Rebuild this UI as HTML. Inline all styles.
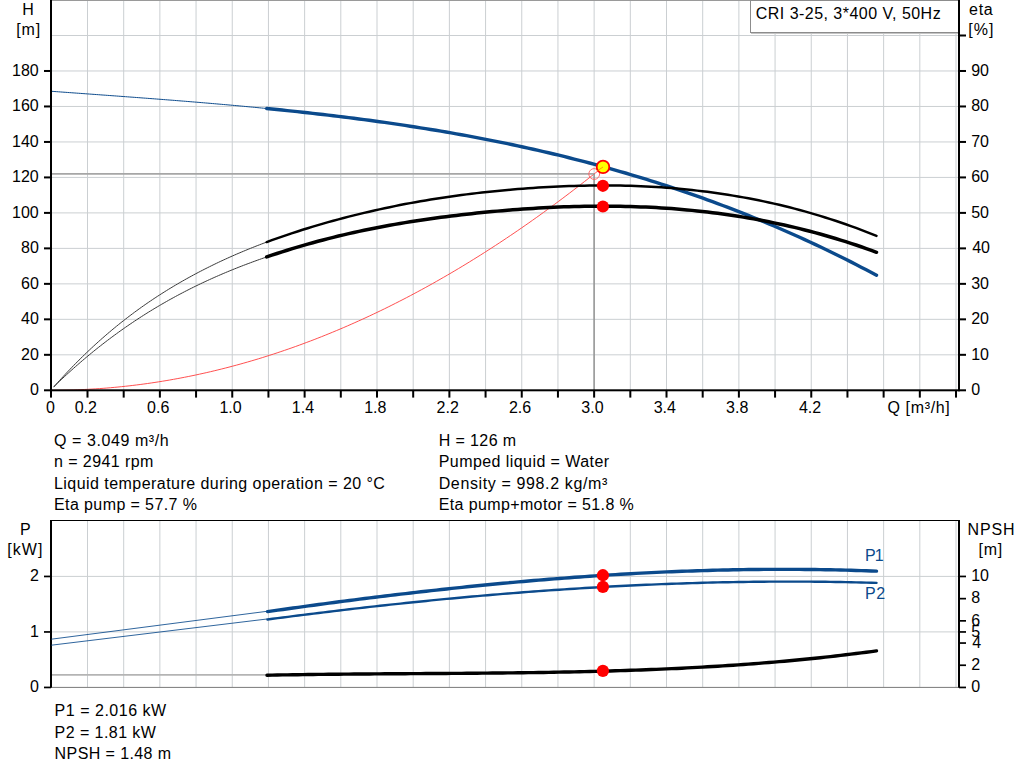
<!DOCTYPE html>
<html><head><meta charset="utf-8"><style>
html,body{margin:0;padding:0;background:#fff;width:1024px;height:781px;overflow:hidden}
svg{display:block}
text{font-family:"Liberation Sans",sans-serif;font-size:16px}
</style></head><body>
<svg width="1024" height="781" viewBox="0 0 1024 781">
<line x1="87.50" y1="0.00" x2="87.50" y2="390.30" stroke="#cbcfd2" stroke-width="1"/>
<line x1="123.69" y1="0.00" x2="123.69" y2="390.30" stroke="#cbcfd2" stroke-width="1"/>
<line x1="159.87" y1="0.00" x2="159.87" y2="390.30" stroke="#cbcfd2" stroke-width="1"/>
<line x1="196.06" y1="0.00" x2="196.06" y2="390.30" stroke="#cbcfd2" stroke-width="1"/>
<line x1="232.25" y1="0.00" x2="232.25" y2="390.30" stroke="#cbcfd2" stroke-width="1"/>
<line x1="268.44" y1="0.00" x2="268.44" y2="390.30" stroke="#cbcfd2" stroke-width="1"/>
<line x1="304.63" y1="0.00" x2="304.63" y2="390.30" stroke="#cbcfd2" stroke-width="1"/>
<line x1="340.81" y1="0.00" x2="340.81" y2="390.30" stroke="#cbcfd2" stroke-width="1"/>
<line x1="377.00" y1="0.00" x2="377.00" y2="390.30" stroke="#cbcfd2" stroke-width="1"/>
<line x1="413.19" y1="0.00" x2="413.19" y2="390.30" stroke="#cbcfd2" stroke-width="1"/>
<line x1="449.38" y1="0.00" x2="449.38" y2="390.30" stroke="#cbcfd2" stroke-width="1"/>
<line x1="485.57" y1="0.00" x2="485.57" y2="390.30" stroke="#cbcfd2" stroke-width="1"/>
<line x1="521.75" y1="0.00" x2="521.75" y2="390.30" stroke="#cbcfd2" stroke-width="1"/>
<line x1="557.94" y1="0.00" x2="557.94" y2="390.30" stroke="#cbcfd2" stroke-width="1"/>
<line x1="594.13" y1="0.00" x2="594.13" y2="390.30" stroke="#cbcfd2" stroke-width="1"/>
<line x1="630.32" y1="0.00" x2="630.32" y2="390.30" stroke="#cbcfd2" stroke-width="1"/>
<line x1="666.51" y1="0.00" x2="666.51" y2="390.30" stroke="#cbcfd2" stroke-width="1"/>
<line x1="702.69" y1="0.00" x2="702.69" y2="390.30" stroke="#cbcfd2" stroke-width="1"/>
<line x1="738.88" y1="0.00" x2="738.88" y2="390.30" stroke="#cbcfd2" stroke-width="1"/>
<line x1="775.07" y1="0.00" x2="775.07" y2="390.30" stroke="#cbcfd2" stroke-width="1"/>
<line x1="811.26" y1="0.00" x2="811.26" y2="390.30" stroke="#cbcfd2" stroke-width="1"/>
<line x1="847.45" y1="0.00" x2="847.45" y2="390.30" stroke="#cbcfd2" stroke-width="1"/>
<line x1="883.63" y1="0.00" x2="883.63" y2="390.30" stroke="#cbcfd2" stroke-width="1"/>
<line x1="919.82" y1="0.00" x2="919.82" y2="390.30" stroke="#cbcfd2" stroke-width="1"/>
<line x1="956.01" y1="0.00" x2="956.01" y2="390.30" stroke="#cbcfd2" stroke-width="1"/>
<line x1="51.30" y1="354.82" x2="959.00" y2="354.82" stroke="#cbcfd2" stroke-width="1"/>
<line x1="51.30" y1="319.34" x2="959.00" y2="319.34" stroke="#cbcfd2" stroke-width="1"/>
<line x1="51.30" y1="283.86" x2="959.00" y2="283.86" stroke="#cbcfd2" stroke-width="1"/>
<line x1="51.30" y1="248.38" x2="959.00" y2="248.38" stroke="#cbcfd2" stroke-width="1"/>
<line x1="51.30" y1="212.90" x2="959.00" y2="212.90" stroke="#cbcfd2" stroke-width="1"/>
<line x1="51.30" y1="177.42" x2="959.00" y2="177.42" stroke="#cbcfd2" stroke-width="1"/>
<line x1="51.30" y1="141.94" x2="959.00" y2="141.94" stroke="#cbcfd2" stroke-width="1"/>
<line x1="51.30" y1="106.46" x2="959.00" y2="106.46" stroke="#cbcfd2" stroke-width="1"/>
<line x1="51.30" y1="70.98" x2="959.00" y2="70.98" stroke="#cbcfd2" stroke-width="1"/>
<line x1="51.30" y1="35.50" x2="959.00" y2="35.50" stroke="#cbcfd2" stroke-width="1"/>
<rect x="50.00" y="0.00" width="910.00" height="1.00" fill="#9a9a9a"/>
<rect x="750.5" y="0.5" width="208" height="32" fill="#fff" stroke="#8c8c8c" stroke-width="1"/>
<rect x="751.00" y="32.00" width="208.00" height="1.00" fill="#8c8c8c"/>
<rect x="751.00" y="33.00" width="208.00" height="1.00" fill="#c4c4c4"/>
<path d="M51.31,390.30 L55.01,390.29 L58.71,390.26 L62.42,390.21 L66.12,390.14 L69.82,390.05 L73.52,389.94 L77.22,389.81 L80.93,389.66 L84.63,389.48 L88.33,389.29 L92.03,389.08 L95.73,388.85 L99.44,388.60 L103.14,388.33 L106.84,388.04 L110.54,387.72 L114.24,387.39 L117.95,387.04 L121.65,386.67 L125.35,386.28 L129.05,385.86 L132.75,385.43 L136.45,384.98 L140.16,384.50 L143.86,384.01 L147.56,383.50 L151.26,382.96 L154.96,382.41 L158.67,381.84 L162.37,381.24 L166.07,380.63 L169.77,380.00 L173.47,379.34 L177.18,378.67 L180.88,377.97 L184.58,377.26 L188.28,376.53 L191.98,375.77 L195.69,375.00 L199.39,374.20 L203.09,373.39 L206.79,372.55 L210.49,371.70 L214.20,370.82 L217.90,369.92 L221.60,369.01 L225.30,368.07 L229.00,367.12 L232.71,366.14 L236.41,365.15 L240.11,364.13 L243.81,363.09 L247.51,362.04 L251.22,360.96 L254.92,359.86 L258.62,358.75 L262.32,357.61 L266.02,356.45 L269.72,355.27 L273.43,354.08 L277.13,352.86 L280.83,351.62 L284.53,350.36 L288.23,349.09 L291.94,347.79 L295.64,346.47 L299.34,345.13 L303.04,343.77 L306.74,342.39 L310.45,341.00 L314.15,339.58 L317.85,338.14 L321.55,336.68 L325.25,335.20 L328.96,333.70 L332.66,332.18 L336.36,330.64 L340.06,329.08 L343.76,327.50 L347.47,325.90 L351.17,324.28 L354.87,322.64 L358.57,320.98 L362.27,319.30 L365.98,317.60 L369.68,315.88 L373.38,314.14 L377.08,312.38 L380.78,310.60 L384.49,308.80 L388.19,306.98 L391.89,305.14 L395.59,303.27 L399.29,301.39 L402.99,299.49 L406.70,297.57 L410.40,295.63 L414.10,293.66 L417.80,291.68 L421.50,289.68 L425.21,287.66 L428.91,285.62 L432.61,283.55 L436.31,281.47 L440.01,279.37 L443.72,277.24 L447.42,275.10 L451.12,272.94 L454.82,270.75 L458.52,268.55 L462.23,266.33 L465.93,264.08 L469.63,261.82 L473.33,259.53 L477.03,257.23 L480.74,254.91 L484.44,252.56 L488.14,250.20 L491.84,247.81 L495.54,245.41 L499.25,242.98 L502.95,240.54 L506.65,238.07 L510.35,235.59 L514.05,233.08 L517.76,230.56 L521.46,228.01 L525.16,225.44 L528.86,222.86 L532.56,220.25 L536.26,217.63 L539.97,214.98 L543.67,212.31 L547.37,209.63 L551.07,206.92 L554.77,204.19 L558.48,201.45 L562.18,198.68 L565.88,195.89 L569.58,193.08 L573.28,190.26 L576.99,187.41 L580.69,184.54 L584.39,181.65 L588.09,178.75 L591.79,175.82 L595.50,172.87 L599.20,169.90 L602.90,166.91" fill="none" stroke="#ff3c3c" stroke-width="0.9" stroke-linecap="round" stroke-linejoin="round"/>
<line x1="51.30" y1="173.90" x2="594.10" y2="173.90" stroke="#a6a6a6" stroke-width="1.6"/>
<line x1="594.10" y1="173.90" x2="594.10" y2="390.30" stroke="#8f8f8f" stroke-width="1.4"/>
<circle cx="594.2" cy="174.0" r="5.4" fill="none" stroke="#ff6060" stroke-width="0.9"/>
<path d="M54.00,386.71 L55.79,384.70 L57.57,382.70 L59.36,380.71 L61.15,378.75 L62.94,376.81 L64.72,374.88 L66.51,372.97 L68.30,371.08 L70.09,369.21 L71.87,367.35 L73.66,365.51 L75.45,363.69 L77.24,361.88 L79.02,360.09 L80.81,358.32 L82.60,356.56 L84.39,354.83 L86.17,353.10 L87.96,351.40 L89.75,349.71 L91.54,348.03 L93.32,346.38 L95.11,344.73 L96.90,343.11 L98.68,341.49 L100.47,339.90 L102.26,338.32 L104.05,336.75 L105.83,335.20 L107.62,333.67 L109.41,332.15 L111.20,330.64 L112.98,329.15 L114.77,327.67 L116.56,326.21 L118.35,324.76 L120.13,323.32 L121.92,321.90 L123.71,320.50 L125.50,319.10 L127.28,317.72 L129.07,316.36 L130.86,315.00 L132.65,313.66 L134.43,312.33 L136.22,311.02 L138.01,309.72 L139.79,308.43 L141.58,307.15 L143.37,305.89 L145.16,304.64 L146.94,303.40 L148.73,302.17 L150.52,300.96 L152.31,299.75 L154.09,298.56 L155.88,297.38 L157.67,296.21 L159.46,295.05 L161.24,293.90 L163.03,292.77 L164.82,291.64 L166.61,290.53 L168.39,289.43 L170.18,288.33 L171.97,287.25 L173.76,286.18 L175.54,285.12 L177.33,284.07 L179.12,283.02 L180.91,281.99 L182.69,280.97 L184.48,279.96 L186.27,278.95 L188.05,277.96 L189.84,276.97 L191.63,276.00 L193.42,275.03 L195.20,274.07 L196.99,273.12 L198.78,272.18 L200.57,271.25 L202.35,270.33 L204.14,269.41 L205.93,268.50 L207.72,267.60 L209.50,266.71 L211.29,265.83 L213.08,264.95 L214.87,264.09 L216.65,263.23 L218.44,262.38 L220.23,261.53 L222.02,260.70 L223.80,259.87 L225.59,259.05 L227.38,258.24 L229.16,257.43 L230.95,256.63 L232.74,255.84 L234.53,255.06 L236.31,254.28 L238.10,253.51 L239.89,252.75 L241.68,251.99 L243.46,251.24 L245.25,250.50 L247.04,249.76 L248.83,249.03 L250.61,248.31 L252.40,247.59 L254.19,246.88 L255.98,246.18 L257.76,245.48 L259.55,244.79 L261.34,244.10 L263.13,243.42 L264.91,242.75 L266.70,242.08" fill="none" stroke="#3a3a3a" stroke-width="1.0" stroke-linecap="round" stroke-linejoin="round"/>
<path d="M54.00,386.54 L55.79,384.81 L57.57,383.09 L59.36,381.39 L61.15,379.70 L62.94,378.03 L64.72,376.36 L66.51,374.71 L68.30,373.08 L70.09,371.46 L71.87,369.85 L73.66,368.25 L75.45,366.67 L77.24,365.10 L79.02,363.54 L80.81,361.99 L82.60,360.46 L84.39,358.94 L86.17,357.43 L87.96,355.94 L89.75,354.46 L91.54,352.99 L93.32,351.53 L95.11,350.09 L96.90,348.65 L98.68,347.23 L100.47,345.82 L102.26,344.43 L104.05,343.04 L105.83,341.67 L107.62,340.31 L109.41,338.96 L111.20,337.62 L112.98,336.29 L114.77,334.97 L116.56,333.67 L118.35,332.38 L120.13,331.09 L121.92,329.82 L123.71,328.56 L125.50,327.31 L127.28,326.08 L129.07,324.85 L130.86,323.63 L132.65,322.43 L134.43,321.23 L136.22,320.05 L138.01,318.87 L139.79,317.71 L141.58,316.56 L143.37,315.41 L145.16,314.28 L146.94,313.15 L148.73,312.04 L150.52,310.94 L152.31,309.84 L154.09,308.76 L155.88,307.69 L157.67,306.62 L159.46,305.57 L161.24,304.52 L163.03,303.49 L164.82,302.46 L166.61,301.44 L168.39,300.43 L170.18,299.43 L171.97,298.44 L173.76,297.46 L175.54,296.49 L177.33,295.53 L179.12,294.57 L180.91,293.63 L182.69,292.69 L184.48,291.76 L186.27,290.84 L188.05,289.93 L189.84,289.02 L191.63,288.13 L193.42,287.24 L195.20,286.36 L196.99,285.49 L198.78,284.62 L200.57,283.77 L202.35,282.92 L204.14,282.08 L205.93,281.25 L207.72,280.42 L209.50,279.60 L211.29,278.79 L213.08,277.99 L214.87,277.19 L216.65,276.41 L218.44,275.63 L220.23,274.85 L222.02,274.08 L223.80,273.32 L225.59,272.57 L227.38,271.82 L229.16,271.08 L230.95,270.35 L232.74,269.62 L234.53,268.90 L236.31,268.19 L238.10,267.48 L239.89,266.78 L241.68,266.08 L243.46,265.39 L245.25,264.71 L247.04,264.03 L248.83,263.36 L250.61,262.69 L252.40,262.03 L254.19,261.38 L255.98,260.73 L257.76,260.08 L259.55,259.44 L261.34,258.81 L263.13,258.18 L264.91,257.56 L266.70,256.94" fill="none" stroke="#3a3a3a" stroke-width="1.0" stroke-linecap="round" stroke-linejoin="round"/>
<path d="M51.30,91.28 L53.11,91.42 L54.93,91.55 L56.74,91.68 L58.55,91.81 L60.36,91.94 L62.18,92.08 L63.99,92.21 L65.80,92.34 L67.61,92.47 L69.43,92.60 L71.24,92.73 L73.05,92.86 L74.86,92.99 L76.68,93.13 L78.49,93.26 L80.30,93.39 L82.11,93.52 L83.93,93.65 L85.74,93.78 L87.55,93.91 L89.36,94.04 L91.18,94.18 L92.99,94.31 L94.80,94.44 L96.62,94.57 L98.43,94.70 L100.24,94.83 L102.05,94.97 L103.87,95.10 L105.68,95.23 L107.49,95.36 L109.30,95.49 L111.12,95.63 L112.93,95.76 L114.74,95.89 L116.55,96.03 L118.37,96.16 L120.18,96.29 L121.99,96.43 L123.80,96.56 L125.62,96.69 L127.43,96.83 L129.24,96.96 L131.05,97.10 L132.87,97.23 L134.68,97.37 L136.49,97.50 L138.31,97.64 L140.12,97.77 L141.93,97.91 L143.74,98.05 L145.56,98.18 L147.37,98.32 L149.18,98.46 L150.99,98.60 L152.81,98.73 L154.62,98.87 L156.43,99.01 L158.24,99.15 L160.06,99.29 L161.87,99.43 L163.68,99.57 L165.49,99.71 L167.31,99.85 L169.12,100.00 L170.93,100.14 L172.74,100.28 L174.56,100.42 L176.37,100.57 L178.18,100.71 L179.99,100.86 L181.81,101.00 L183.62,101.15 L185.43,101.29 L187.25,101.44 L189.06,101.59 L190.87,101.74 L192.68,101.88 L194.50,102.03 L196.31,102.18 L198.12,102.33 L199.93,102.48 L201.75,102.63 L203.56,102.78 L205.37,102.94 L207.18,103.09 L209.00,103.24 L210.81,103.40 L212.62,103.55 L214.43,103.71 L216.25,103.86 L218.06,104.02 L219.87,104.18 L221.68,104.34 L223.50,104.50 L225.31,104.65 L227.12,104.81 L228.94,104.98 L230.75,105.14 L232.56,105.30 L234.37,105.46 L236.19,105.63 L238.00,105.79 L239.81,105.96 L241.62,106.12 L243.44,106.29 L245.25,106.46 L247.06,106.63 L248.87,106.80 L250.69,106.97 L252.50,107.14 L254.31,107.31 L256.12,107.48 L257.94,107.66 L259.75,107.83 L261.56,108.01 L263.37,108.18 L265.19,108.36 L267.00,108.54" fill="none" stroke="#0b4a8c" stroke-width="1.0" stroke-linecap="butt" stroke-linejoin="round"/>
<path d="M266.70,108.51 L271.82,109.02 L276.95,109.53 L282.07,110.05 L287.20,110.58 L292.32,111.12 L297.45,111.67 L302.57,112.23 L307.69,112.79 L312.82,113.36 L317.94,113.95 L323.07,114.54 L328.19,115.14 L333.32,115.75 L338.44,116.37 L343.57,117.00 L348.69,117.64 L353.81,118.30 L358.94,118.96 L364.06,119.63 L369.19,120.31 L374.31,121.01 L379.44,121.72 L384.56,122.44 L389.68,123.17 L394.81,123.91 L399.93,124.66 L405.06,125.43 L410.18,126.21 L415.31,127.00 L420.43,127.81 L425.56,128.63 L430.68,129.46 L435.80,130.30 L440.93,131.16 L446.05,132.04 L451.18,132.93 L456.30,133.83 L461.43,134.75 L466.55,135.68 L471.67,136.63 L476.80,137.59 L481.92,138.57 L487.05,139.56 L492.17,140.57 L497.30,141.59 L502.42,142.63 L507.55,143.69 L512.67,144.77 L517.79,145.86 L522.92,146.97 L528.04,148.09 L533.17,149.24 L538.29,150.40 L543.42,151.58 L548.54,152.77 L553.66,153.99 L558.79,155.22 L563.91,156.47 L569.04,157.74 L574.16,159.03 L579.29,160.34 L584.41,161.66 L589.54,163.01 L594.66,164.38 L599.78,165.76 L604.91,167.17 L610.03,168.60 L615.16,170.04 L620.28,171.51 L625.41,173.00 L630.53,174.51 L635.65,176.04 L640.78,177.59 L645.90,179.17 L651.03,180.76 L656.15,182.38 L661.28,184.02 L666.40,185.68 L671.53,187.36 L676.65,189.07 L681.77,190.80 L686.90,192.55 L692.02,194.32 L697.15,196.12 L702.27,197.94 L707.40,199.79 L712.52,201.66 L717.64,203.55 L722.77,205.47 L727.89,207.41 L733.02,209.38 L738.14,211.37 L743.27,213.39 L748.39,215.43 L753.52,217.50 L758.64,219.60 L763.76,221.72 L768.89,223.86 L774.01,226.03 L779.14,228.23 L784.26,230.46 L789.39,232.71 L794.51,234.99 L799.63,237.29 L804.76,239.62 L809.88,241.98 L815.01,244.37 L820.13,246.79 L825.26,249.23 L830.38,251.70 L835.51,254.20 L840.63,256.73 L845.75,259.29 L850.88,261.88 L856.00,264.49 L861.13,267.14 L866.25,269.81 L871.38,272.52 L876.50,275.25" fill="none" stroke="#0b4a8c" stroke-width="3.4" stroke-linecap="round" stroke-linejoin="round"/>
<path d="M266.70,242.08 L271.82,240.20 L276.95,238.36 L282.07,236.57 L287.20,234.82 L292.32,233.11 L297.45,231.44 L302.57,229.80 L307.69,228.21 L312.82,226.64 L317.94,225.11 L323.07,223.62 L328.19,222.16 L333.32,220.73 L338.44,219.34 L343.57,217.98 L348.69,216.65 L353.81,215.35 L358.94,214.09 L364.06,212.86 L369.19,211.66 L374.31,210.49 L379.44,209.35 L384.56,208.24 L389.68,207.16 L394.81,206.11 L399.93,205.09 L405.06,204.10 L410.18,203.14 L415.31,202.21 L420.43,201.30 L425.56,200.43 L430.68,199.58 L435.80,198.76 L440.93,197.96 L446.05,197.20 L451.18,196.45 L456.30,195.74 L461.43,195.05 L466.55,194.38 L471.67,193.75 L476.80,193.13 L481.92,192.54 L487.05,191.98 L492.17,191.44 L497.30,190.92 L502.42,190.42 L507.55,189.95 L512.67,189.50 L517.79,189.08 L522.92,188.67 L528.04,188.29 L533.17,187.93 L538.29,187.59 L543.42,187.28 L548.54,186.99 L553.66,186.72 L558.79,186.48 L563.91,186.26 L569.04,186.07 L574.16,185.90 L579.29,185.76 L584.41,185.65 L589.54,185.56 L594.66,185.50 L599.78,185.46 L604.91,185.46 L610.03,185.48 L615.16,185.53 L620.28,185.62 L625.41,185.73 L630.53,185.87 L635.65,186.04 L640.78,186.24 L645.90,186.47 L651.03,186.74 L656.15,187.04 L661.28,187.37 L666.40,187.73 L671.53,188.12 L676.65,188.55 L681.77,189.02 L686.90,189.51 L692.02,190.05 L697.15,190.62 L702.27,191.22 L707.40,191.86 L712.52,192.54 L717.64,193.25 L722.77,194.00 L727.89,194.79 L733.02,195.61 L738.14,196.48 L743.27,197.38 L748.39,198.32 L753.52,199.31 L758.64,200.33 L763.76,201.39 L768.89,202.50 L774.01,203.64 L779.14,204.83 L784.26,206.06 L789.39,207.33 L794.51,208.65 L799.63,210.01 L804.76,211.41 L809.88,212.86 L815.01,214.35 L820.13,215.88 L825.26,217.46 L830.38,219.09 L835.51,220.76 L840.63,222.48 L845.75,224.25 L850.88,226.07 L856.00,227.93 L861.13,229.84 L866.25,231.80 L871.38,233.81 L876.50,235.86" fill="none" stroke="#000" stroke-width="2.5" stroke-linecap="round" stroke-linejoin="round"/>
<path d="M266.70,256.94 L271.82,255.20 L276.95,253.50 L282.07,251.84 L287.20,250.22 L292.32,248.64 L297.45,247.09 L302.57,245.59 L307.69,244.12 L312.82,242.69 L317.94,241.30 L323.07,239.94 L328.19,238.61 L333.32,237.33 L338.44,236.07 L343.57,234.85 L348.69,233.66 L353.81,232.51 L358.94,231.39 L364.06,230.29 L369.19,229.23 L374.31,228.20 L379.44,227.20 L384.56,226.23 L389.68,225.29 L394.81,224.37 L399.93,223.49 L405.06,222.63 L410.18,221.79 L415.31,220.99 L420.43,220.20 L425.56,219.45 L430.68,218.71 L435.80,218.00 L440.93,217.32 L446.05,216.65 L451.18,216.01 L456.30,215.39 L461.43,214.79 L466.55,214.21 L471.67,213.65 L476.80,213.11 L481.92,212.59 L487.05,212.08 L492.17,211.60 L497.30,211.13 L502.42,210.68 L507.55,210.25 L512.67,209.84 L517.79,209.45 L522.92,209.08 L528.04,208.73 L533.17,208.40 L538.29,208.09 L543.42,207.80 L548.54,207.53 L553.66,207.29 L558.79,207.07 L563.91,206.87 L569.04,206.69 L574.16,206.54 L579.29,206.41 L584.41,206.31 L589.54,206.23 L594.66,206.18 L599.78,206.15 L604.91,206.14 L610.03,206.17 L615.16,206.22 L620.28,206.29 L625.41,206.40 L630.53,206.53 L635.65,206.69 L640.78,206.88 L645.90,207.09 L651.03,207.34 L656.15,207.61 L661.28,207.92 L666.40,208.25 L671.53,208.61 L676.65,209.01 L681.77,209.44 L686.90,209.89 L692.02,210.38 L697.15,210.91 L702.27,211.46 L707.40,212.05 L712.52,212.67 L717.64,213.32 L722.77,214.01 L727.89,214.73 L733.02,215.49 L738.14,216.29 L743.27,217.11 L748.39,217.98 L753.52,218.88 L758.64,219.81 L763.76,220.79 L768.89,221.80 L774.01,222.85 L779.14,223.93 L784.26,225.06 L789.39,226.22 L794.51,227.42 L799.63,228.67 L804.76,229.95 L809.88,231.27 L815.01,232.63 L820.13,234.04 L825.26,235.48 L830.38,236.97 L835.51,238.50 L840.63,240.07 L845.75,241.68 L850.88,243.33 L856.00,245.03 L861.13,246.78 L866.25,248.56 L871.38,250.40 L876.50,252.27" fill="none" stroke="#000" stroke-width="3.5" stroke-linecap="round" stroke-linejoin="round"/>
<rect x="50.00" y="0.00" width="2.00" height="397.60" fill="#000"/>
<rect x="958.00" y="0.00" width="2.00" height="391.30" fill="#000"/>
<rect x="44.00" y="389.30" width="922.00" height="2.00" fill="#000"/>
<rect x="44.00" y="353.82" width="7.00" height="2.00" fill="#000"/>
<rect x="959.00" y="353.82" width="7.00" height="2.00" fill="#000"/>
<rect x="44.00" y="318.34" width="7.00" height="2.00" fill="#000"/>
<rect x="959.00" y="318.34" width="7.00" height="2.00" fill="#000"/>
<rect x="44.00" y="282.86" width="7.00" height="2.00" fill="#000"/>
<rect x="959.00" y="282.86" width="7.00" height="2.00" fill="#000"/>
<rect x="44.00" y="247.38" width="7.00" height="2.00" fill="#000"/>
<rect x="959.00" y="247.38" width="7.00" height="2.00" fill="#000"/>
<rect x="44.00" y="211.90" width="7.00" height="2.00" fill="#000"/>
<rect x="959.00" y="211.90" width="7.00" height="2.00" fill="#000"/>
<rect x="44.00" y="176.42" width="7.00" height="2.00" fill="#000"/>
<rect x="959.00" y="176.42" width="7.00" height="2.00" fill="#000"/>
<rect x="44.00" y="140.94" width="7.00" height="2.00" fill="#000"/>
<rect x="959.00" y="140.94" width="7.00" height="2.00" fill="#000"/>
<rect x="44.00" y="105.46" width="7.00" height="2.00" fill="#000"/>
<rect x="959.00" y="105.46" width="7.00" height="2.00" fill="#000"/>
<rect x="44.00" y="69.98" width="7.00" height="2.00" fill="#000"/>
<rect x="959.00" y="69.98" width="7.00" height="2.00" fill="#000"/>
<rect x="959.00" y="34.50" width="7.00" height="2.00" fill="#000"/>
<rect x="86.50" y="390.00" width="2.00" height="7.60" fill="#000"/>
<rect x="122.69" y="390.00" width="2.00" height="7.60" fill="#000"/>
<rect x="158.87" y="390.00" width="2.00" height="7.60" fill="#000"/>
<rect x="195.06" y="390.00" width="2.00" height="7.60" fill="#000"/>
<rect x="231.25" y="390.00" width="2.00" height="7.60" fill="#000"/>
<rect x="267.44" y="390.00" width="2.00" height="7.60" fill="#000"/>
<rect x="303.63" y="390.00" width="2.00" height="7.60" fill="#000"/>
<rect x="339.81" y="390.00" width="2.00" height="7.60" fill="#000"/>
<rect x="376.00" y="390.00" width="2.00" height="7.60" fill="#000"/>
<rect x="412.19" y="390.00" width="2.00" height="7.60" fill="#000"/>
<rect x="448.38" y="390.00" width="2.00" height="7.60" fill="#000"/>
<rect x="484.57" y="390.00" width="2.00" height="7.60" fill="#000"/>
<rect x="520.75" y="390.00" width="2.00" height="7.60" fill="#000"/>
<rect x="556.94" y="390.00" width="2.00" height="7.60" fill="#000"/>
<rect x="593.13" y="390.00" width="2.00" height="7.60" fill="#000"/>
<rect x="629.32" y="390.00" width="2.00" height="7.60" fill="#000"/>
<rect x="665.51" y="390.00" width="2.00" height="7.60" fill="#000"/>
<rect x="701.69" y="390.00" width="2.00" height="7.60" fill="#000"/>
<rect x="737.88" y="390.00" width="2.00" height="7.60" fill="#000"/>
<rect x="774.07" y="390.00" width="2.00" height="7.60" fill="#000"/>
<rect x="810.26" y="390.00" width="2.00" height="7.60" fill="#000"/>
<rect x="846.45" y="390.00" width="2.00" height="7.60" fill="#000"/>
<rect x="882.63" y="390.00" width="2.00" height="7.60" fill="#000"/>
<rect x="918.82" y="390.00" width="2.00" height="7.60" fill="#000"/>
<rect x="955.01" y="390.00" width="2.00" height="7.60" fill="#000"/>
<circle cx="602.9" cy="185.8" r="6.1" fill="#ff0000"/>
<circle cx="602.9" cy="206.5" r="6.1" fill="#ff0000"/>
<circle cx="603.0" cy="166.9" r="6.3" fill="#ffff00" stroke="#ff0000" stroke-width="1.8"/>
<line x1="597" y1="171" x2="603" y2="167" stroke="#ff8000" stroke-width="0.8"/>
<line x1="87.50" y1="520.50" x2="87.50" y2="687.00" stroke="#cbcfd2" stroke-width="1"/>
<line x1="123.69" y1="520.50" x2="123.69" y2="687.00" stroke="#cbcfd2" stroke-width="1"/>
<line x1="159.87" y1="520.50" x2="159.87" y2="687.00" stroke="#cbcfd2" stroke-width="1"/>
<line x1="196.06" y1="520.50" x2="196.06" y2="687.00" stroke="#cbcfd2" stroke-width="1"/>
<line x1="232.25" y1="520.50" x2="232.25" y2="687.00" stroke="#cbcfd2" stroke-width="1"/>
<line x1="268.44" y1="520.50" x2="268.44" y2="687.00" stroke="#cbcfd2" stroke-width="1"/>
<line x1="304.63" y1="520.50" x2="304.63" y2="687.00" stroke="#cbcfd2" stroke-width="1"/>
<line x1="340.81" y1="520.50" x2="340.81" y2="687.00" stroke="#cbcfd2" stroke-width="1"/>
<line x1="377.00" y1="520.50" x2="377.00" y2="687.00" stroke="#cbcfd2" stroke-width="1"/>
<line x1="413.19" y1="520.50" x2="413.19" y2="687.00" stroke="#cbcfd2" stroke-width="1"/>
<line x1="449.38" y1="520.50" x2="449.38" y2="687.00" stroke="#cbcfd2" stroke-width="1"/>
<line x1="485.57" y1="520.50" x2="485.57" y2="687.00" stroke="#cbcfd2" stroke-width="1"/>
<line x1="521.75" y1="520.50" x2="521.75" y2="687.00" stroke="#cbcfd2" stroke-width="1"/>
<line x1="557.94" y1="520.50" x2="557.94" y2="687.00" stroke="#cbcfd2" stroke-width="1"/>
<line x1="594.13" y1="520.50" x2="594.13" y2="687.00" stroke="#cbcfd2" stroke-width="1"/>
<line x1="630.32" y1="520.50" x2="630.32" y2="687.00" stroke="#cbcfd2" stroke-width="1"/>
<line x1="666.51" y1="520.50" x2="666.51" y2="687.00" stroke="#cbcfd2" stroke-width="1"/>
<line x1="702.69" y1="520.50" x2="702.69" y2="687.00" stroke="#cbcfd2" stroke-width="1"/>
<line x1="738.88" y1="520.50" x2="738.88" y2="687.00" stroke="#cbcfd2" stroke-width="1"/>
<line x1="775.07" y1="520.50" x2="775.07" y2="687.00" stroke="#cbcfd2" stroke-width="1"/>
<line x1="811.26" y1="520.50" x2="811.26" y2="687.00" stroke="#cbcfd2" stroke-width="1"/>
<line x1="847.45" y1="520.50" x2="847.45" y2="687.00" stroke="#cbcfd2" stroke-width="1"/>
<line x1="883.63" y1="520.50" x2="883.63" y2="687.00" stroke="#cbcfd2" stroke-width="1"/>
<line x1="919.82" y1="520.50" x2="919.82" y2="687.00" stroke="#cbcfd2" stroke-width="1"/>
<line x1="956.01" y1="520.50" x2="956.01" y2="687.00" stroke="#cbcfd2" stroke-width="1"/>
<line x1="51.30" y1="631.90" x2="959.00" y2="631.90" stroke="#cbcfd2" stroke-width="1"/>
<line x1="51.30" y1="576.40" x2="959.00" y2="576.40" stroke="#cbcfd2" stroke-width="1"/>
<rect x="50.00" y="520.00" width="910.00" height="1.00" fill="#000"/>
<rect x="51.00" y="686.90" width="908.00" height="1.00" fill="#7a7a7a"/>
<rect x="50.00" y="520.00" width="2.00" height="167.60" fill="#000"/>
<rect x="958.00" y="520.00" width="2.00" height="167.60" fill="#000"/>
<rect x="44.00" y="686.60" width="7.00" height="1.70" fill="#000"/>
<rect x="44.00" y="631.10" width="7.00" height="1.70" fill="#000"/>
<rect x="44.00" y="575.60" width="7.00" height="1.70" fill="#000"/>
<rect x="959.00" y="686.60" width="7.00" height="1.70" fill="#000"/>
<rect x="959.00" y="664.40" width="7.00" height="1.70" fill="#000"/>
<rect x="959.00" y="642.20" width="7.00" height="1.70" fill="#000"/>
<rect x="959.00" y="631.10" width="7.00" height="1.70" fill="#000"/>
<rect x="959.00" y="620.00" width="7.00" height="1.70" fill="#000"/>
<rect x="959.00" y="597.80" width="7.00" height="1.70" fill="#000"/>
<rect x="959.00" y="575.60" width="7.00" height="1.70" fill="#000"/>
<line x1="52.00" y1="674.90" x2="267.00" y2="674.90" stroke="#b4b4b4" stroke-width="1.6"/>
<line x1="51.30" y1="639.20" x2="267.00" y2="611.30" stroke="#0b4a8c" stroke-width="1.0" stroke-opacity="0.85"/>
<line x1="51.30" y1="645.20" x2="267.00" y2="619.00" stroke="#0b4a8c" stroke-width="1.0" stroke-opacity="0.85"/>
<path d="M267.50,611.62 L272.62,610.89 L277.74,610.17 L282.85,609.45 L287.97,608.73 L293.09,608.02 L298.21,607.31 L303.32,606.61 L308.44,605.91 L313.56,605.21 L318.68,604.52 L323.79,603.84 L328.91,603.16 L334.03,602.48 L339.15,601.81 L344.26,601.15 L349.38,600.49 L354.50,599.83 L359.62,599.18 L364.74,598.54 L369.85,597.90 L374.97,597.26 L380.09,596.63 L385.21,596.01 L390.32,595.39 L395.44,594.77 L400.56,594.17 L405.68,593.57 L410.79,592.97 L415.91,592.38 L421.03,591.80 L426.15,591.22 L431.26,590.64 L436.38,590.08 L441.50,589.52 L446.62,588.96 L451.74,588.42 L456.85,587.88 L461.97,587.34 L467.09,586.81 L472.21,586.29 L477.32,585.77 L482.44,585.27 L487.56,584.76 L492.68,584.27 L497.79,583.78 L502.91,583.30 L508.03,582.82 L513.15,582.36 L518.26,581.90 L523.38,581.44 L528.50,581.00 L533.62,580.56 L538.74,580.13 L543.85,579.70 L548.97,579.29 L554.09,578.88 L559.21,578.48 L564.32,578.08 L569.44,577.70 L574.56,577.32 L579.68,576.95 L584.79,576.59 L589.91,576.23 L595.03,575.89 L600.15,575.55 L605.26,575.22 L610.38,574.90 L615.50,574.58 L620.62,574.28 L625.74,573.98 L630.85,573.70 L635.97,573.42 L641.09,573.15 L646.21,572.88 L651.32,572.63 L656.44,572.39 L661.56,572.15 L666.68,571.92 L671.79,571.71 L676.91,571.50 L682.03,571.30 L687.15,571.11 L692.26,570.93 L697.38,570.76 L702.50,570.59 L707.62,570.44 L712.74,570.30 L717.85,570.17 L722.97,570.04 L728.09,569.93 L733.21,569.82 L738.32,569.73 L743.44,569.65 L748.56,569.57 L753.68,569.51 L758.79,569.45 L763.91,569.41 L769.03,569.38 L774.15,569.35 L779.26,569.34 L784.38,569.34 L789.50,569.34 L794.62,569.36 L799.74,569.39 L804.85,569.43 L809.97,569.48 L815.09,569.54 L820.21,569.62 L825.32,569.70 L830.44,569.79 L835.56,569.90 L840.68,570.02 L845.79,570.14 L850.91,570.28 L856.03,570.43 L861.15,570.60 L866.26,570.77 L871.38,570.95 L876.50,571.15" fill="none" stroke="#0b4a8c" stroke-width="3.4" stroke-linecap="round" stroke-linejoin="round"/>
<path d="M267.50,619.49 L272.62,618.81 L277.74,618.14 L282.85,617.48 L287.97,616.82 L293.09,616.16 L298.21,615.51 L303.32,614.87 L308.44,614.22 L313.56,613.59 L318.68,612.96 L323.79,612.33 L328.91,611.71 L334.03,611.09 L339.15,610.48 L344.26,609.88 L349.38,609.28 L354.50,608.68 L359.62,608.10 L364.74,607.51 L369.85,606.93 L374.97,606.36 L380.09,605.79 L385.21,605.23 L390.32,604.67 L395.44,604.12 L400.56,603.58 L405.68,603.04 L410.79,602.51 L415.91,601.98 L421.03,601.46 L426.15,600.94 L431.26,600.43 L436.38,599.92 L441.50,599.43 L446.62,598.93 L451.74,598.45 L456.85,597.97 L461.97,597.49 L467.09,597.03 L472.21,596.56 L477.32,596.11 L482.44,595.66 L487.56,595.22 L492.68,594.78 L497.79,594.35 L502.91,593.92 L508.03,593.51 L513.15,593.10 L518.26,592.69 L523.38,592.29 L528.50,591.90 L533.62,591.52 L538.74,591.14 L543.85,590.77 L548.97,590.40 L554.09,590.05 L559.21,589.70 L564.32,589.35 L569.44,589.02 L574.56,588.69 L579.68,588.36 L584.79,588.05 L589.91,587.74 L595.03,587.44 L600.15,587.14 L605.26,586.85 L610.38,586.57 L615.50,586.30 L620.62,586.03 L625.74,585.78 L630.85,585.52 L635.97,585.28 L641.09,585.04 L646.21,584.82 L651.32,584.59 L656.44,584.38 L661.56,584.17 L666.68,583.98 L671.79,583.79 L676.91,583.60 L682.03,583.43 L687.15,583.26 L692.26,583.10 L697.38,582.95 L702.50,582.80 L707.62,582.67 L712.74,582.54 L717.85,582.42 L722.97,582.31 L728.09,582.20 L733.21,582.11 L738.32,582.02 L743.44,581.94 L748.56,581.87 L753.68,581.81 L758.79,581.75 L763.91,581.71 L769.03,581.67 L774.15,581.64 L779.26,581.62 L784.38,581.61 L789.50,581.60 L794.62,581.61 L799.74,581.62 L804.85,581.64 L809.97,581.67 L815.09,581.71 L820.21,581.76 L825.32,581.82 L830.44,581.88 L835.56,581.96 L840.68,582.04 L845.79,582.13 L850.91,582.23 L856.03,582.34 L861.15,582.46 L866.26,582.59 L871.38,582.73 L876.50,582.88" fill="none" stroke="#0b4a8c" stroke-width="2.4" stroke-linecap="round" stroke-linejoin="round"/>
<path d="M267.00,675.20 L272.12,675.11 L277.24,675.01 L282.37,674.92 L287.49,674.84 L292.61,674.76 L297.73,674.68 L302.85,674.61 L307.97,674.54 L313.10,674.47 L318.22,674.41 L323.34,674.35 L328.46,674.29 L333.58,674.24 L338.71,674.19 L343.83,674.14 L348.95,674.09 L354.07,674.05 L359.19,674.01 L364.32,673.97 L369.44,673.93 L374.56,673.89 L379.68,673.86 L384.80,673.82 L389.92,673.79 L395.05,673.76 L400.17,673.72 L405.29,673.69 L410.41,673.66 L415.53,673.63 L420.66,673.60 L425.78,673.57 L430.90,673.54 L436.02,673.50 L441.14,673.47 L446.26,673.44 L451.39,673.40 L456.51,673.37 L461.63,673.33 L466.75,673.29 L471.87,673.25 L477.00,673.21 L482.12,673.17 L487.24,673.12 L492.36,673.07 L497.48,673.02 L502.61,672.97 L507.73,672.91 L512.85,672.86 L517.97,672.79 L523.09,672.73 L528.21,672.66 L533.34,672.59 L538.46,672.51 L543.58,672.43 L548.70,672.35 L553.82,672.26 L558.95,672.16 L564.07,672.07 L569.19,671.97 L574.31,671.86 L579.43,671.75 L584.55,671.63 L589.68,671.51 L594.80,671.38 L599.92,671.24 L605.04,671.10 L610.16,670.96 L615.29,670.80 L620.41,670.64 L625.53,670.48 L630.65,670.31 L635.77,670.13 L640.89,669.94 L646.02,669.75 L651.14,669.55 L656.26,669.34 L661.38,669.12 L666.50,668.90 L671.63,668.67 L676.75,668.43 L681.87,668.18 L686.99,667.92 L692.11,667.65 L697.24,667.38 L702.36,667.09 L707.48,666.80 L712.60,666.50 L717.72,666.19 L722.84,665.87 L727.97,665.53 L733.09,665.19 L738.21,664.84 L743.33,664.48 L748.45,664.11 L753.58,663.72 L758.70,663.33 L763.82,662.92 L768.94,662.51 L774.06,662.08 L779.18,661.64 L784.31,661.19 L789.43,660.72 L794.55,660.25 L799.67,659.76 L804.79,659.26 L809.92,658.75 L815.04,658.23 L820.16,657.69 L825.28,657.14 L830.40,656.57 L835.53,656.00 L840.65,655.41 L845.77,654.80 L850.89,654.18 L856.01,653.55 L861.13,652.91 L866.26,652.25 L871.38,651.57 L876.50,650.88" fill="none" stroke="#000" stroke-width="3.4" stroke-linecap="round" stroke-linejoin="round"/>
<circle cx="602.9" cy="575.2" r="6.1" fill="#ff0000"/>
<circle cx="602.9" cy="586.9" r="6.1" fill="#ff0000"/>
<circle cx="602.9" cy="670.9" r="6.1" fill="#ff0000"/>
<text x="22.30" y="14.90" fill="#000">H</text>
<text x="16.30" y="34.90" fill="#000" letter-spacing="0.850">[m]</text>
<text x="30.00" y="395.20" fill="#000">0</text>
<text x="21.00" y="359.72" fill="#000">20</text>
<text x="21.00" y="324.24" fill="#000">40</text>
<text x="21.00" y="288.76" fill="#000">60</text>
<text x="21.00" y="253.28" fill="#000">80</text>
<text x="12.00" y="217.80" fill="#000">100</text>
<text x="12.00" y="182.32" fill="#000">120</text>
<text x="12.00" y="146.84" fill="#000">140</text>
<text x="12.00" y="111.36" fill="#000">160</text>
<text x="12.00" y="75.88" fill="#000">180</text>
<text x="969.10" y="14.80" fill="#000" letter-spacing="0.650">eta</text>
<text x="968.30" y="34.60" fill="#000" letter-spacing="1.050">[%]</text>
<text x="971.20" y="395.20" fill="#000">0</text>
<text x="971.20" y="359.72" fill="#000">10</text>
<text x="971.20" y="324.24" fill="#000">20</text>
<text x="971.20" y="288.76" fill="#000">30</text>
<text x="972.20" y="253.28" fill="#000">40</text>
<text x="971.20" y="217.80" fill="#000">50</text>
<text x="971.20" y="182.32" fill="#000">60</text>
<text x="971.20" y="146.84" fill="#000">70</text>
<text x="971.20" y="111.36" fill="#000">80</text>
<text x="971.20" y="75.88" fill="#000">90</text>
<text x="46.05" y="412.60" fill="#000">0</text>
<text x="74.70" y="412.60" fill="#000">0.2</text>
<text x="147.07" y="412.60" fill="#000">0.6</text>
<text x="219.45" y="412.60" fill="#000">1.0</text>
<text x="291.83" y="412.60" fill="#000">1.4</text>
<text x="364.20" y="412.60" fill="#000">1.8</text>
<text x="436.58" y="412.60" fill="#000">2.2</text>
<text x="508.95" y="412.60" fill="#000">2.6</text>
<text x="581.33" y="412.60" fill="#000">3.0</text>
<text x="653.71" y="412.60" fill="#000">3.4</text>
<text x="726.08" y="412.60" fill="#000">3.8</text>
<text x="798.96" y="412.60" fill="#000">4.2</text>
<text x="887.40" y="412.60" fill="#000" letter-spacing="0.657">Q [m³/h]</text>
<text x="755.80" y="18.90" fill="#000" letter-spacing="0.464">CRI 3-25, 3*400 V, 50Hz</text>
<text x="54.00" y="445.50" fill="#000" letter-spacing="0.577">Q = 3.049 m³/h</text>
<text x="54.00" y="466.60" fill="#000" letter-spacing="0.427">n = 2941 rpm</text>
<text x="54.00" y="489.00" fill="#000" letter-spacing="0.452">Liquid temperature during operation = 20 °C</text>
<text x="54.00" y="510.00" fill="#000" letter-spacing="0.400">Eta pump = 57.7 %</text>
<text x="438.70" y="445.60" fill="#000" letter-spacing="0.400">H = 126 m</text>
<text x="438.70" y="466.80" fill="#000" letter-spacing="0.435">Pumped liquid = Water</text>
<text x="438.70" y="489.00" fill="#000" letter-spacing="0.625">Density = 998.2 kg/m³</text>
<text x="438.70" y="510.00" fill="#000" letter-spacing="0.377">Eta pump+motor = 51.8 %</text>
<text x="20.10" y="534.60" fill="#000">P</text>
<text x="7.20" y="554.80" fill="#000" letter-spacing="1.067">[kW]</text>
<text x="30.00" y="692.10" fill="#000">0</text>
<text x="30.00" y="636.60" fill="#000">1</text>
<text x="30.00" y="581.10" fill="#000">2</text>
<text x="967.50" y="535.10" fill="#000" letter-spacing="0.867">NPSH</text>
<text x="978.40" y="555.30" fill="#000" letter-spacing="0.850">[m]</text>
<text x="971.20" y="692.10" fill="#000">0</text>
<text x="971.20" y="669.90" fill="#000">2</text>
<text x="972.20" y="647.70" fill="#000">4</text>
<text x="971.20" y="636.60" fill="#000">5</text>
<text x="971.20" y="625.50" fill="#000">6</text>
<text x="971.20" y="603.30" fill="#000">8</text>
<text x="971.20" y="581.10" fill="#000">10</text>
<text x="865.10" y="560.80" fill="#0b4a8c" letter-spacing="-0.900">P1</text>
<text x="865.10" y="599.10" fill="#0b4a8c" letter-spacing="0.400">P2</text>
<text x="54.60" y="716.00" fill="#000" letter-spacing="0.517">P1 = 2.016 kW</text>
<text x="54.60" y="738.00" fill="#000" letter-spacing="0.436">P2 = 1.81 kW</text>
<text x="54.60" y="759.00" fill="#000" letter-spacing="0.408">NPSH = 1.48 m</text>
</svg>
</body></html>
